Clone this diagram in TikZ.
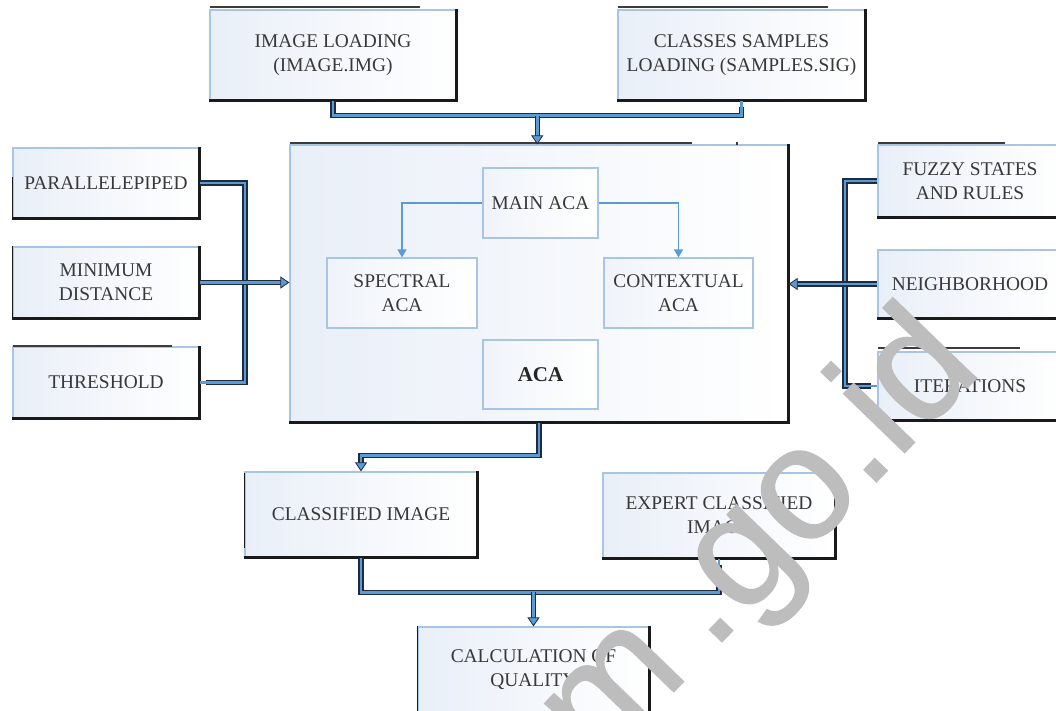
\documentclass[tikz,border=0pt]{standalone}
\usepackage{fontspec}
\setmainfont{Liberation Serif}
\newfontfamily\wmfont[FakeBold=1]{Liberation Sans}
\usetikzlibrary{arrows.meta,calc}
\definecolor{edge}{HTML}{A7C6E6}
\definecolor{shad}{HTML}{1A1A1A}
\definecolor{cblue}{HTML}{5B9BD5}
\definecolor{cdark}{HTML}{1F2B3E}
\definecolor{tint}{HTML}{E9EFF8}
\definecolor{txt}{HTML}{383838}
\definecolor{wmgray}{HTML}{BDBDBD}
\begin{document}
\begin{tikzpicture}[x=1pt,y=-1pt,
  box/.style={draw=edge, line width=1.2pt, left color=tint, right color=white,
    text=txt, font=\fontsize{19.4}{24}\selectfont, align=center, inner sep=0pt},
  innerbox/.style={box, left color=tint!70!white},
  shadowline/.style={draw=shad, line width=2.6pt},
  artifact/.style={draw=shad!85, line width=1.3pt},
  conn/.style={draw=cblue, line width=2.8pt,
    preaction={draw=cdark, line width=5.2pt, arrows=-, shorten >=6pt}},
  connarrow/.style={conn, -{Triangle[length=9pt,width=12pt,line width=0.8pt,color=cdark,fill=cblue]}},
  innerarrow/.style={draw=cblue, line width=1.4pt, -{Triangle[length=8pt,width=9pt]}},
  wm/.style={text=wmgray, font=\wmfont\fontsize{160}{160}\selectfont, inner sep=0pt}
]
\fill[white] (0,0) rectangle (1056,711);
\useasboundingbox (0,0) rectangle (1056,711);

% main box
\node[box, minimum width=498pt, minimum height=277pt] (main) at (539,283.5) {};

% top boxes
\node[box, minimum width=246pt, minimum height=90pt] (imgload) at (333,55) {IMAGE LOADING\\(IMAGE.IMG)};
\node[box, minimum width=247pt, minimum height=90pt] (classes) at (741.5,55) {CLASSES SAMPLES\\LOADING (SAMPLES.SIG)};

% left boxes
\node[box, minimum width=186pt, minimum height=70pt] (para) at (106,183) {PARALLELEPIPED};
\node[box, minimum width=186pt, minimum height=71pt] (mindist) at (106,282.5) {MINIMUM\\DISTANCE};
\node[box, minimum width=186pt, minimum height=71pt] (thresh) at (106,382.5) {THRESHOLD};

% right boxes
\node[box, minimum width=184pt, minimum height=72pt] (fuzzy) at (970,181) {FUZZY STATES\\AND RULES};
\node[box, minimum width=184pt, minimum height=68pt] (neigh) at (970,284) {NEIGHBORHOOD};
\node[box, minimum width=184pt, minimum height=68pt] (iter) at (970,386) {ITERATIONS};

% inner boxes
\node[innerbox, minimum width=115pt, minimum height=70pt] (mainaca) at (540.5,203) {MAIN ACA};
\node[innerbox, minimum width=150pt, minimum height=70pt] (spectral) at (402,293) {SPECTRAL\\ACA};
\node[innerbox, minimum width=149pt, minimum height=70pt] (context) at (678.5,293) {CONTEXTUAL\\ACA};
\node[innerbox, minimum width=115pt, minimum height=69pt, font=\fontsize{21}{25}\selectfont\bfseries, text=black!85] (aca) at (540.5,374.5) {ACA};

% bottom boxes
\node[box, minimum width=232pt, minimum height=85pt] (classified) at (361,514.5) {CLASSIFIED IMAGE};
\node[box, minimum width=232pt, minimum height=85pt] (expert) at (719,515.5) {EXPERT CLASSIFIED\\IMAGE};
\node[box, minimum width=231pt, minimum height=85pt] (calc) at (533.5,669.5) {CALCULATION OF\\QUALITY};

% shadows (right and bottom edges)
\foreach \n in {main,imgload,classes,para,mindist,thresh,fuzzy,neigh,iter,classified,expert,calc}
  \draw[shadowline] (\n.north east) -- (\n.south east) -- (\n.south west);

% stray dark edge artifacts
\draw[artifact] (210,7) -- (420,7);
\draw[artifact] (618,7) -- (828,7);
\draw[artifact] (290,143) -- (692,143);
\draw[artifact] (737,142) -- (737,145);
\draw[artifact] (13,346) -- (172,346);
\draw[artifact] (878,143) -- (1005,143);
\draw[artifact] (878,348) -- (1020,348);
\draw[shadowline, line width=1.6pt] (mindist.north west) -- (mindist.south west);
\draw[shadowline, line width=1.6pt] ([yshift=-2pt]classified.north west) -- ([yshift=10pt]classified.south west);
\draw[shadowline, line width=1.6pt] (calc.north west) -- (calc.south west);
\draw[shadowline, line width=1.6pt] (para.south west) -- ([yshift=-30pt]para.north west);

% connectors: top
\draw[conn] (imgload.south) -- ++(0,15) -| (classes.south);
\coordinate (jt) at ($(imgload.south)!0.5!(classes.south)+(0,15)$);
\draw[connarrow] (jt) -- (jt |- main.north);

% connectors: left
\coordinate (jl) at (245,283);
\draw[conn] (para.east) -| (jl) |- (thresh.east);
\draw[connarrow] (mindist.east) -- (mindist.east -| main.west);

% connectors: right
\coordinate (jr) at (845,284);
\draw[conn] (fuzzy.west) -| (jr) |- (iter.west);
\draw[connarrow] (neigh.west) -- (neigh.west -| main.east);

% connectors: inner
\draw[innerarrow] (mainaca.west) -| (spectral.north);
\draw[innerarrow] (mainaca.east) -| (context.north);

% connectors: bottom
\draw[connarrow] (main.south) -- ++(0,33) -| (classified.north);
\draw[conn] (classified.south) -- ++(0,35) -| (expert.south);
\coordinate (jb) at (calc.north |- 0,592);
\draw[connarrow] (jb) -- (calc.north);

% watermark
\node[wm, rotate=46, anchor=base west] (wmark) at (598,770) {m\kern0.19em.go.id};
\end{tikzpicture}
\end{document}
